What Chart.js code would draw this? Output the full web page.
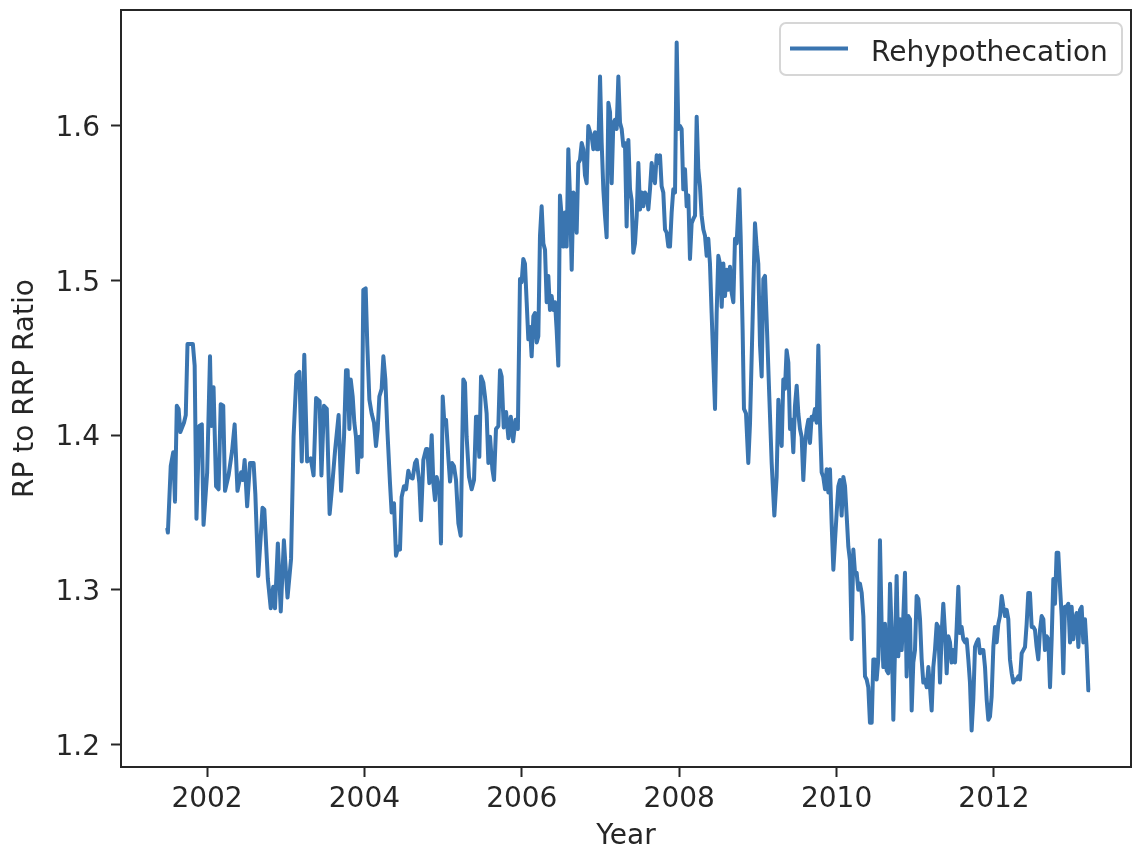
<!DOCTYPE html>
<html>
<head>
<meta charset="utf-8">
<title>Rehypothecation</title>
<script src="https://cdn.jsdelivr.net/npm/chart.js@4.4.1/dist/chart.umd.min.js"></script>
<style>
  html, body { margin: 0; padding: 0; background: #fff; }
  canvas { display: block; }
</style>
</head>
<body>
<canvas id="chart" width="1134" height="855"></canvas>
<script>
/* ---------- data (decimal year, RP / RRP ratio) ---------- */
const seriesLabel = 'Rehypothecation';

const weeks = [
  2001.494, 2001.503, 2001.539, 2001.571, 2001.593, 2001.616, 2001.639, 2001.661, 2001.707, 2001.730,
  2001.752, 2001.820, 2001.843, 2001.866, 2001.902, 2001.934, 2001.956,
  2002.002, 2002.038, 2002.056, 2002.083, 2002.115, 2002.147, 2002.174, 2002.206, 2002.229, 2002.274,
  2002.319, 2002.351, 2002.387, 2002.433, 2002.455, 2002.478, 2002.510, 2002.546, 2002.592, 2002.614,
  2002.651, 2002.705, 2002.728, 2002.773, 2002.810, 2002.841, 2002.864, 2002.900, 2002.937, 2002.977,
  2003.023, 2003.068, 2003.100, 2003.136, 2003.173, 2003.204, 2003.236, 2003.272, 2003.318, 2003.354,
  2003.386, 2003.431, 2003.454, 2003.486, 2003.522, 2003.558, 2003.590, 2003.627, 2003.672, 2003.704,
  2003.741, 2003.766, 2003.787, 2003.809, 2003.826, 2003.851, 2003.872, 2003.893, 2003.914, 2003.936,
  2003.965, 2003.986,
  2004.016, 2004.037, 2004.063, 2004.092, 2004.122, 2004.147, 2004.169, 2004.190, 2004.219, 2004.241,
  2004.266, 2004.291, 2004.325, 2004.346, 2004.376, 2004.401, 2004.431, 2004.452, 2004.473, 2004.503,
  2004.529, 2004.558, 2004.579, 2004.613, 2004.643, 2004.664, 2004.698, 2004.719, 2004.749, 2004.783,
  2004.800, 2004.825, 2004.855, 2004.876, 2004.897, 2004.918, 2004.952, 2004.973, 2004.995,
  2005.016, 2005.037, 2005.066, 2005.088, 2005.113, 2005.138, 2005.164, 2005.194, 2005.223, 2005.257,
  2005.278, 2005.299, 2005.329, 2005.363, 2005.393, 2005.418, 2005.439, 2005.460, 2005.482, 2005.511,
  2005.532, 2005.553, 2005.575, 2005.596, 2005.626, 2005.647, 2005.672, 2005.702, 2005.723, 2005.744,
  2005.770, 2005.800, 2005.830, 2005.860, 2005.890, 2005.920, 2005.950, 2005.977, 2005.998,
  2006.019, 2006.040, 2006.062, 2006.083, 2006.104, 2006.125, 2006.147, 2006.168, 2006.189, 2006.210,
  2006.231, 2006.252, 2006.274, 2006.295, 2006.316, 2006.337, 2006.358, 2006.379, 2006.401, 2006.422,
  2006.443, 2006.464, 2006.485, 2006.506, 2006.528, 2006.549, 2006.570, 2006.591, 2006.612, 2006.634,
  2006.655, 2006.676, 2006.697, 2006.718, 2006.739, 2006.761, 2006.782, 2006.803, 2006.824, 2006.845,
  2006.867, 2006.888, 2006.909, 2006.930, 2006.951, 2006.972, 2006.994,
  2007.015, 2007.036, 2007.057, 2007.078, 2007.100, 2007.121, 2007.142, 2007.163, 2007.184, 2007.205,
  2007.227, 2007.248, 2007.269, 2007.290, 2007.311, 2007.332, 2007.354, 2007.375, 2007.396, 2007.417,
  2007.438, 2007.460, 2007.481, 2007.502, 2007.523, 2007.544, 2007.565, 2007.587, 2007.608, 2007.629,
  2007.650, 2007.671, 2007.692, 2007.714, 2007.735, 2007.756, 2007.777, 2007.798, 2007.820, 2007.841,
  2007.862, 2007.883, 2007.904, 2007.925, 2007.947, 2007.968, 2007.989,
  2008.010, 2008.031, 2008.052, 2008.074, 2008.095, 2008.116, 2008.137, 2008.158, 2008.180, 2008.201,
  2008.222, 2008.243, 2008.264, 2008.285, 2008.307, 2008.328, 2008.349, 2008.370, 2008.391, 2008.412,
  2008.434, 2008.455, 2008.476, 2008.497, 2008.518, 2008.540, 2008.561, 2008.582, 2008.603, 2008.624,
  2008.645, 2008.667, 2008.688, 2008.709, 2008.730, 2008.764, 2008.781, 2008.806, 2008.823, 2008.849,
  2008.878, 2008.900, 2008.933, 2008.963, 2008.984,
  2009.005, 2009.027, 2009.048, 2009.069, 2009.090, 2009.111, 2009.145, 2009.175, 2009.209, 2009.238,
  2009.260, 2009.281, 2009.302, 2009.323, 2009.344, 2009.365, 2009.387, 2009.408, 2009.429, 2009.450,
  2009.471, 2009.493, 2009.514, 2009.535, 2009.556, 2009.577, 2009.598, 2009.620, 2009.641, 2009.662,
  2009.683, 2009.704, 2009.725, 2009.747, 2009.768, 2009.789, 2009.810, 2009.831, 2009.853, 2009.874,
  2009.895, 2009.916, 2009.937, 2009.959, 2009.980,
  2010.001, 2010.022, 2010.043, 2010.064, 2010.086, 2010.107, 2010.128, 2010.149, 2010.170, 2010.191,
  2010.213, 2010.234, 2010.255, 2010.276, 2010.297, 2010.319, 2010.340, 2010.361, 2010.382, 2010.403,
  2010.424, 2010.446, 2010.467, 2010.488, 2010.509, 2010.530, 2010.551, 2010.573, 2010.594, 2010.615,
  2010.636, 2010.657, 2010.679, 2010.700, 2010.721, 2010.742, 2010.763, 2010.784, 2010.806, 2010.827,
  2010.848, 2010.869, 2010.890, 2010.912, 2010.933, 2010.954, 2010.975, 2010.996,
  2011.017, 2011.039, 2011.060, 2011.081, 2011.102, 2011.123, 2011.145, 2011.166, 2011.187, 2011.208,
  2011.229, 2011.250, 2011.272, 2011.293, 2011.314, 2011.335, 2011.356, 2011.378, 2011.399, 2011.420,
  2011.441, 2011.462, 2011.483, 2011.505, 2011.526, 2011.547, 2011.568, 2011.589, 2011.610, 2011.632,
  2011.653, 2011.674, 2011.695, 2011.716, 2011.737, 2011.759, 2011.780, 2011.801, 2011.822, 2011.843,
  2011.865, 2011.886, 2011.907, 2011.928, 2011.949, 2011.970, 2011.992,
  2012.013, 2012.034, 2012.055, 2012.076, 2012.098, 2012.119, 2012.140, 2012.161, 2012.182, 2012.203,
  2012.225, 2012.246, 2012.267, 2012.288, 2012.309, 2012.330, 2012.352, 2012.373, 2012.394, 2012.415,
  2012.436, 2012.457, 2012.479, 2012.500, 2012.521, 2012.542, 2012.563, 2012.585, 2012.606, 2012.627,
  2012.648, 2012.669, 2012.690, 2012.712, 2012.733, 2012.754, 2012.775, 2012.796, 2012.817, 2012.839,
  2012.860, 2012.881, 2012.902, 2012.923, 2012.945, 2012.966, 2012.987,
  2013.008, 2013.029, 2013.050, 2013.072, 2013.093, 2013.114, 2013.135, 2013.156, 2013.177, 2013.199,
  2013.220
];

const ratio = [
  1.340, 1.337, 1.380, 1.389, 1.357, 1.419, 1.417, 1.402, 1.408, 1.413,
  1.459, 1.459, 1.445, 1.346, 1.406, 1.407, 1.342,
  1.376, 1.451, 1.406, 1.431, 1.367, 1.365, 1.420, 1.419, 1.364, 1.374,
  1.390, 1.407, 1.364, 1.376, 1.371, 1.384, 1.354, 1.382, 1.382, 1.362,
  1.309, 1.353, 1.352, 1.307, 1.288, 1.302, 1.288, 1.330, 1.286, 1.332,
  1.295, 1.320, 1.399, 1.439, 1.441, 1.383, 1.452, 1.383, 1.385, 1.374,
  1.424, 1.422, 1.374, 1.419, 1.417, 1.349, 1.367, 1.390, 1.413, 1.364,
  1.399, 1.442, 1.442, 1.404, 1.436, 1.425, 1.408, 1.399, 1.376, 1.399,
  1.386, 1.494,
  1.495, 1.458, 1.423, 1.414, 1.408, 1.393, 1.404, 1.425, 1.430, 1.451,
  1.436, 1.404, 1.369, 1.350, 1.356, 1.322, 1.328, 1.326, 1.360, 1.367,
  1.365, 1.377, 1.373, 1.372, 1.382, 1.384, 1.369, 1.345, 1.384, 1.391,
  1.391, 1.369, 1.400, 1.369, 1.358, 1.373, 1.365, 1.330, 1.425,
  1.408, 1.410, 1.386, 1.370, 1.382, 1.380, 1.371, 1.343, 1.335, 1.436,
  1.434, 1.399, 1.373, 1.365, 1.371, 1.412, 1.412, 1.386, 1.438, 1.434,
  1.425, 1.414, 1.382, 1.399, 1.378, 1.371, 1.404, 1.406, 1.442, 1.438,
  1.405, 1.415, 1.398, 1.412, 1.396, 1.410, 1.404, 1.501, 1.499,
  1.514, 1.511, 1.486, 1.462, 1.470, 1.451, 1.477, 1.479, 1.460, 1.464,
  1.529, 1.548, 1.524, 1.520, 1.486, 1.503, 1.481, 1.490, 1.481, 1.486,
  1.468, 1.445, 1.555, 1.542, 1.522, 1.544, 1.522, 1.585, 1.555, 1.507,
  1.557, 1.555, 1.531, 1.576, 1.578, 1.589, 1.585, 1.568, 1.563, 1.600,
  1.596, 1.593, 1.585, 1.596, 1.585, 1.585, 1.632,
  1.589, 1.559, 1.542, 1.528, 1.615, 1.609, 1.563, 1.602, 1.604, 1.598,
  1.632, 1.602, 1.598, 1.587, 1.589, 1.535, 1.591, 1.559, 1.552, 1.518,
  1.524, 1.542, 1.576, 1.546, 1.557, 1.548, 1.557, 1.555, 1.546, 1.559,
  1.576, 1.568, 1.563, 1.581, 1.576, 1.581, 1.561, 1.557, 1.533, 1.531,
  1.522, 1.522, 1.544, 1.559, 1.557, 1.654, 1.598,
  1.600, 1.598, 1.559, 1.572, 1.548, 1.555, 1.514, 1.537, 1.540, 1.542,
  1.606, 1.572, 1.561, 1.542, 1.533, 1.529, 1.516, 1.527, 1.511, 1.479,
  1.447, 1.417, 1.479, 1.516, 1.511, 1.483, 1.511, 1.490, 1.507, 1.494,
  1.509, 1.492, 1.486, 1.527, 1.524, 1.559, 1.529, 1.468, 1.417, 1.414,
  1.382, 1.408, 1.475, 1.537, 1.522,
  1.511, 1.458, 1.438, 1.501, 1.503, 1.475, 1.425, 1.382, 1.348, 1.373,
  1.423, 1.404, 1.393, 1.436, 1.430, 1.455, 1.447, 1.404, 1.410, 1.389,
  1.419, 1.432, 1.414, 1.404, 1.399, 1.371, 1.393, 1.404, 1.410, 1.395,
  1.412, 1.410, 1.417, 1.408, 1.458, 1.408, 1.376, 1.373, 1.365, 1.378,
  1.363, 1.378, 1.343, 1.313, 1.332,
  1.350, 1.367, 1.371, 1.348, 1.373, 1.367, 1.348, 1.328, 1.319, 1.268,
  1.326, 1.311, 1.311, 1.300, 1.304, 1.298, 1.283, 1.244, 1.242, 1.237,
  1.214, 1.214, 1.255, 1.255, 1.242, 1.255, 1.332, 1.276, 1.250, 1.278,
  1.248, 1.246, 1.304, 1.272, 1.216, 1.261, 1.309, 1.257, 1.281, 1.261,
  1.283, 1.311, 1.244, 1.283, 1.281, 1.222, 1.253, 1.261,
  1.296, 1.294, 1.281, 1.255, 1.240, 1.242, 1.237, 1.250, 1.237, 1.222,
  1.250, 1.261, 1.278, 1.276, 1.240, 1.272, 1.291, 1.272, 1.246, 1.270,
  1.266, 1.253, 1.261, 1.253, 1.276, 1.302, 1.272, 1.276, 1.268, 1.266,
  1.268, 1.255, 1.240, 1.209, 1.229, 1.263, 1.266, 1.268, 1.259, 1.261,
  1.261, 1.250, 1.229, 1.216, 1.218, 1.231, 1.263,
  1.276, 1.266, 1.278, 1.283, 1.296, 1.289, 1.283, 1.287, 1.281, 1.255,
  1.246, 1.240, 1.242, 1.242, 1.244, 1.242, 1.259, 1.261, 1.263, 1.278,
  1.298, 1.298, 1.276, 1.276, 1.274, 1.263, 1.255, 1.274, 1.283, 1.281,
  1.261, 1.270, 1.268, 1.237, 1.268, 1.307, 1.291, 1.324, 1.324, 1.302,
  1.283, 1.246, 1.289, 1.289, 1.291, 1.266, 1.289,
  1.268, 1.281, 1.285, 1.263, 1.287, 1.289, 1.266, 1.281, 1.263, 1.235,
  1.235
];

const xTicks = [2002, 2004, 2006, 2008, 2010, 2012];
const yTicks = [1.2, 1.3, 1.4, 1.5, 1.6];

/* ---------- look ---------- */
const LINE_COLOR = '#3a75b0';
const INK = '#262626';
const FONT = { family: "'DejaVu Sans', sans-serif", size: 28 };

/* ---------- plugins ---------- */
// full box round the plot, like matplotlib spines
const framePlugin = {
    id: 'frame',
    afterDatasetsDraw(chart) {
        const { ctx, chartArea: a } = chart;
        ctx.save();
        ctx.strokeStyle = INK;
        ctx.lineWidth = 2;
        ctx.strokeRect(a.left, a.top, a.right - a.left, a.bottom - a.top);
        ctx.restore();
    }
};

// boxed legend in the upper right corner
const boxLegendPlugin = {
    id: 'boxLegend',
    afterDraw(chart) {
        const { ctx, chartArea: a } = chart;
        const ds = chart.data.datasets[0];
        const right = a.right - 9, top = a.top + 13, w = 342, h = 52;
        const left = right - w;
        ctx.save();
        ctx.beginPath();
        ctx.roundRect(left, top, w, h, 6);
        ctx.fillStyle = 'rgba(255,255,255,0.8)';
        ctx.fill();
        ctx.strokeStyle = '#d6d6d6';
        ctx.lineWidth = 2;
        ctx.stroke();

        ctx.beginPath();
        ctx.moveTo(left + 10, top + 25.5);
        ctx.lineTo(left + 68, top + 25.5);
        ctx.strokeStyle = ds.borderColor;
        ctx.lineWidth = 4;
        ctx.stroke();

        ctx.fillStyle = INK;
        ctx.font = `${FONT.size}px ${FONT.family}`;
        ctx.textBaseline = 'alphabetic';
        ctx.textAlign = 'left';
        ctx.fillText(ds.label, left + 91, top + 37.5);
        ctx.restore();
    }
};

/* ---------- chart ---------- */
const points = weeks.map((x, i) => ({ x: x, y: ratio[i] }));

new Chart(document.getElementById('chart'), {
    type: 'line',
    data: {
        datasets: [{
            label: seriesLabel,
            data: points,
            borderColor: LINE_COLOR,
            borderWidth: 4,
            borderJoinStyle: 'round',
            pointRadius: 0,
            tension: 0,
            fill: false
        }]
    },
    options: {
        responsive: false,
        animation: false,
        events: [],
        layout: { padding: { top: 10, right: 3, left: 0, bottom: 0 } },
        plugins: {
            legend: { display: false },
            tooltip: { enabled: false }
        },
        scales: {
            x: {
                type: 'linear',
                min: 2000.907,
                max: 2013.741,
                afterBuildTicks: s => { s.ticks = xTicks.map(v => ({ value: v })); },
                afterFit: s => { s.height = 88; s.paddingLeft = 0; s.paddingRight = 0; },
                border: { display: false },
                grid: { drawOnChartArea: false, drawTicks: true, tickLength: 10, tickWidth: 2, tickColor: INK },
                ticks: { font: FONT, color: INK, padding: 6, maxRotation: 0, autoSkip: false, callback: v => String(v) },
                title: { display: true, text: 'Year', font: FONT, color: INK, padding: { top: 0, bottom: 1 } }
            },
            y: {
                type: 'linear',
                min: 1.1854,
                max: 1.675,
                afterBuildTicks: s => { s.ticks = yTicks.map(v => ({ value: v })); },
                afterFit: s => { s.width = 121; s.paddingTop = 0; s.paddingBottom = 0; },
                border: { display: false },
                grid: { drawOnChartArea: false, drawTicks: true, tickLength: 10, tickWidth: 2, tickColor: INK },
                ticks: { font: FONT, color: INK, padding: 11, labelOffset: 3, autoSkip: false, callback: v => v.toFixed(1) },
                title: { display: true, text: 'RP to RRP Ratio', font: FONT, color: INK, padding: { top: 9, bottom: 0 } }
            }
        }
    },
    plugins: [framePlugin, boxLegendPlugin]
});
</script>
</body>
</html>
